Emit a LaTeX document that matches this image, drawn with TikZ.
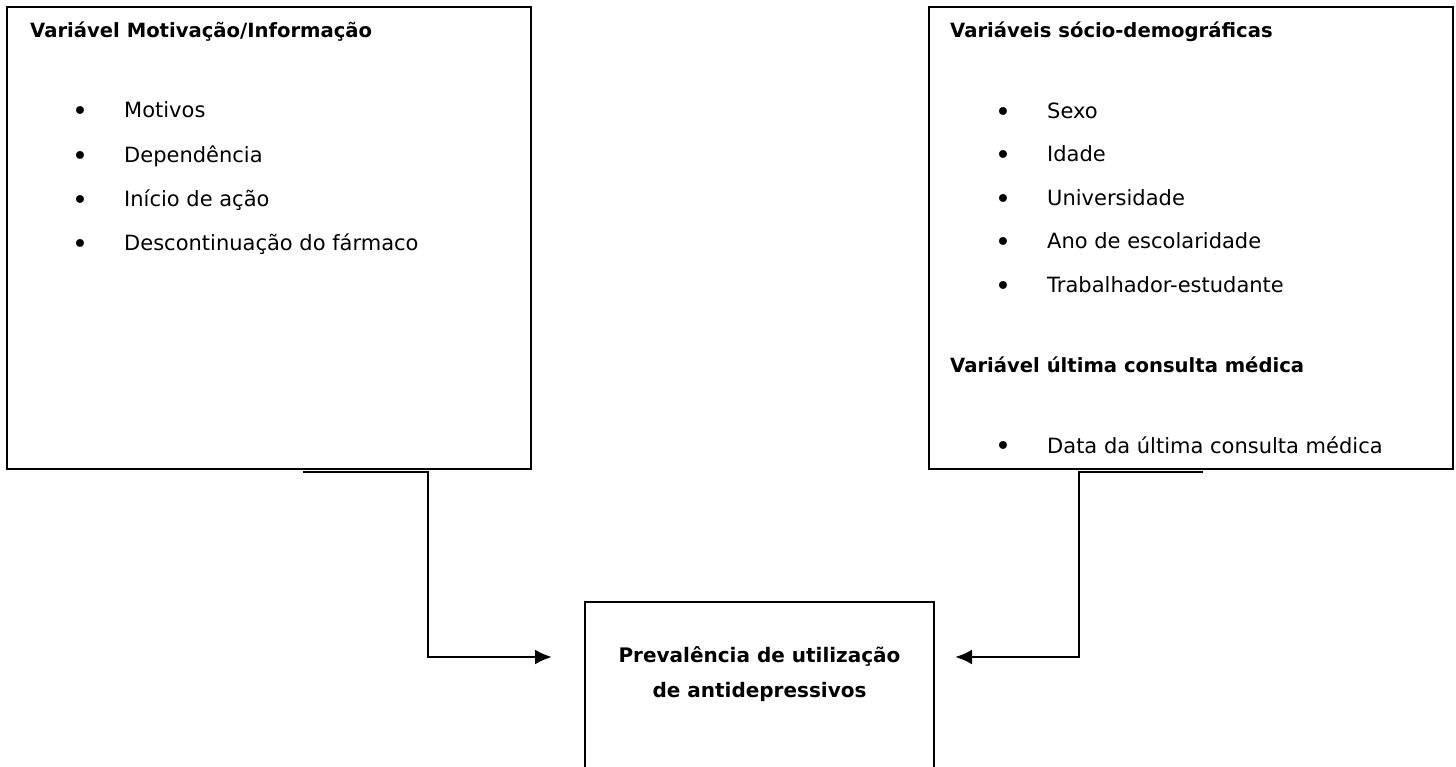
\documentclass[tikz,border=0pt]{standalone}
\usepackage{fontspec}
\setmainfont{DejaVu Sans}
\usetikzlibrary{arrows.meta}

\newcommand{\itembullet}{\makebox[52pt][l]{\raisebox{-2.5pt}{\fontsize{27}{27}\selectfont•}}}

\begin{document}
\begin{tikzpicture}[x=1pt, y=-1pt]
    \tikzstyle{every node}=[inner sep=0pt];
    \tikzstyle{box}=[draw, line width=1.6pt, rectangle];
    \tikzstyle{head}=[anchor=base west, font=\fontsize{19.6}{23}\selectfont\bfseries];
    \tikzstyle{item}=[anchor=base west, font=\fontsize{21}{24}\selectfont];
    \tikzstyle{conn}=[line width=2.6pt, -{Latex[length=17pt, width=15pt]}];

    \useasboundingbox (0,0) rectangle (1456,767);

    % left box
    \node at ( 269, 238) (motiv) [box, minimum width=524pt, minimum height=462pt] {};
    \node at (  30,  38) (motivh) [head] {Variável Motivação/Informação};
    \node at (  72, 118) (m1) [item] {\itembullet Motivos};
    \node at (  72, 163) (m2) [item] {\itembullet Dependência};
    \node at (  72, 207) (m3) [item] {\itembullet Início de ação};
    \node at (  72, 251) (m4) [item] {\itembullet Descontinuação do fármaco};

    % right box
    \node at (1191, 238) (socio) [box, minimum width=524pt, minimum height=462pt] {};
    \node at ( 950,  38) (socioh) [head] {Variáveis sócio-demográficas};
    \node at ( 995, 119) (s1) [item] {\itembullet Sexo};
    \node at ( 995, 162) (s2) [item] {\itembullet Idade};
    \node at ( 995, 206) (s3) [item] {\itembullet Universidade};
    \node at ( 995, 249) (s4) [item] {\itembullet Ano de escolaridade};
    \node at ( 995, 293) (s5) [item] {\itembullet Trabalhador-estudante};
    \node at ( 950, 372) (consh) [head] {Variável última consulta médica};
    \node at ( 995, 453) (c1) [item] {\itembullet Data da última consulta médica};

    % bottom box, open at the page edge
    \draw[line width=1.6pt] (585,768) |- (934,602) -- (934,768);
    \node at (759.5, 674) (prev) [align=center, font=\fontsize{20}{35}\selectfont\bfseries]
        {Prevalência de utilização\\de antidepressivos};

    \coordinate (lstub) at ( 303, 472);
    \coordinate (lbend) at ( 428, 472);
    \coordinate (ltip)  at ( 552, 657);
    \coordinate (rstub) at (1203, 472);
    \coordinate (rbend) at (1079, 472);
    \coordinate (rtip)  at ( 955, 657);

    \draw[conn] (lstub) -- (lbend) |- (ltip);
    \draw[conn] (rstub) -- (rbend) |- (rtip);
\end{tikzpicture}
\end{document}
